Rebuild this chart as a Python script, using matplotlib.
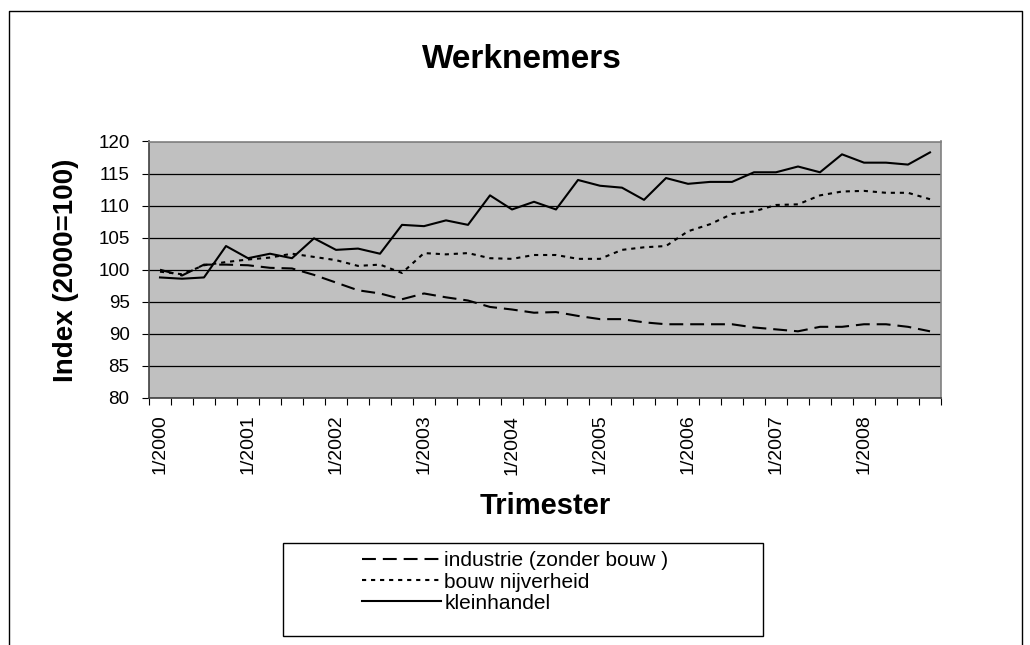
import matplotlib
matplotlib.use("Agg")
import matplotlib.pyplot as plt
from matplotlib.patches import Rectangle
from matplotlib.lines import Line2D
from matplotlib.ticker import FixedLocator, NullFormatter

plt.rcParams['font.family'] = ['Liberation Sans', 'DejaVu Sans']
plt.rcParams['lines.scale_dashes'] = False

# ---- data ----
years = list(range(2000, 2009))
quarters = [f"{q}/{y}" for y in years for q in range(1, 5)]
tick_labels = [f"1/{y}" for y in years]

industrie = [100.0, 99.1, 100.8, 100.8, 100.7, 100.3, 100.2, 99.2, 98.0, 96.8, 96.3, 95.4,
             96.3, 95.7, 95.2, 94.2, 93.8, 93.3, 93.4, 92.8, 92.3, 92.3, 91.8, 91.5,
             91.5, 91.5, 91.5, 91.0, 90.7, 90.4, 91.1, 91.1, 91.5, 91.5, 91.1, 90.4]
bouw = [99.7, 99.3, 100.7, 101.2, 101.6, 101.9, 102.5, 102.0, 101.5, 100.6, 100.8, 99.5,
        102.6, 102.4, 102.6, 101.8, 101.7, 102.3, 102.3, 101.7, 101.7, 103.1, 103.5, 103.7,
        106.0, 107.1, 108.7, 109.1, 110.1, 110.2, 111.6, 112.2, 112.3, 112.0, 112.0, 111.0]
kleinhandel = [98.8, 98.6, 98.8, 103.7, 101.8, 102.5, 101.8, 104.9, 103.1, 103.3, 102.5, 107.0,
               106.8, 107.7, 107.0, 111.6, 109.4, 110.6, 109.4, 114.0, 113.1, 112.8, 110.9, 114.3,
               113.4, 113.7, 113.7, 115.2, 115.2, 116.1, 115.2, 118.0, 116.7, 116.7, 116.4, 118.3]
series_names = ["industrie (zonder bouw )", "bouw nijverheid", "kleinhandel"]

W, H = 1030, 645
fig = plt.figure(figsize=(W / 100, H / 100), dpi=100)
fig.patch.set_facecolor('white')

def fx(px):
    return px / W

def fy(py):
    return 1 - py / H

L, R, T, B = 149, 941, 141.5, 398
ax = fig.add_axes([fx(L), fy(B), fx(R) - fx(L), fy(T) - fy(B)])
ax.set_facecolor('#C0C0C0')

x = list(range(len(quarters)))
lw = 1.5
ax.plot(x, industrie, color='black', lw=lw, linestyle=(0, (10, 5)), label=series_names[0])
ax.plot(x, bouw, color='black', lw=lw, linestyle=(0, (3, 3.5)), label=series_names[1])
ax.plot(x, kleinhandel, color='black', lw=lw, linestyle='-', label=series_names[2])

ax.set_xlim(-0.5, len(quarters) - 0.5)
ax.set_ylim(80, 120)
ax.set_yticks(range(80, 121, 5))
ax.yaxis.grid(True, color='black', lw=0.9)
ax.set_axisbelow(True)
ax.tick_params(axis='y', length=5, width=0.8, direction='out', pad=9, labelsize=13.5, colors='black')

ax.set_xticks([i * 4 for i in range(len(tick_labels))])
ax.set_xticklabels(tick_labels, rotation=90, fontsize=14)
ax.tick_params(axis='x', which='major', length=0, pad=12)
ax.xaxis.set_minor_locator(FixedLocator([i - 0.5 for i in range(len(quarters) + 1)]))
ax.xaxis.set_minor_formatter(NullFormatter())
ax.tick_params(axis='x', which='minor', length=5, width=0.8, direction='out')

for s in ['top', 'right']:
    ax.spines[s].set_color('#808080')
    ax.spines[s].set_linewidth(1.2)
for s in ['left', 'bottom']:
    ax.spines[s].set_color('#404040')
    ax.spines[s].set_linewidth(1.2)

fig.text(fx(522), fy(60), "Werknemers", ha='center', va='center', fontsize=24, fontweight='bold')
fig.text(fx(66), fy(270), "Index (2000=100)", ha='center', va='center', rotation=90,
         fontsize=20, fontweight='bold')
fig.text(fx(545), fy(506), "Trimester", ha='center', va='center', fontsize=21, fontweight='bold')

# outer chart border (left, top, right)
fig.add_artist(Line2D([fx(9), fx(9), fx(1022), fx(1022)], [0, fy(11), fy(11), 0],
                      transform=fig.transFigure, color='black', lw=1.0))

# legend box
fig.add_artist(Rectangle((fx(283), fy(636)), fx(763) - fx(283), fy(543) - fy(636),
                         transform=fig.transFigure, facecolor='white', edgecolor='black', lw=1.0))
handles, labels = ax.get_legend_handles_labels()
leg = fig.legend(handles, labels, loc='center left', bbox_to_anchor=(fx(362), fy(582)),
                 frameon=False, fontsize=15, handlelength=3.8, handletextpad=0.15,
                 labelspacing=0.1, borderpad=0, borderaxespad=0)

fig.savefig("out.png", dpi=100)
